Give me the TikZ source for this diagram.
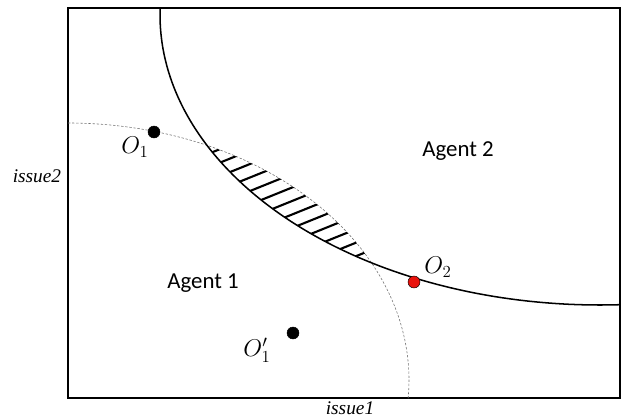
\documentclass[tikz,border=0pt]{standalone}
\usepackage{fontspec}
\usepackage{tikz}
\newfontfamily\calibri{Carlito}
\newfontfamily\timesfont{Liberation Serif}
\definecolor{dotred}{HTML}{E8120C}

\begin{document}
\begin{tikzpicture}[x=0.03cm,y=-0.03cm,
        agent/.style={font=\calibri\fontsize{19.5}{23}\selectfont},
        issue/.style={font=\timesfont\itshape\fontsize{16.5}{20}\selectfont},
        ptlabel/.style={font=\fontsize{20}{24}\selectfont,inner sep=0pt},
        dot/.style={circle,draw=black,fill=black,inner sep=0pt,minimum size=0.36cm},
        hatch/.style={line width=1.8pt}]
      \useasboundingbox (0,0) rectangle (623,418);
      % frame
      \draw[line width=1.6pt] (68,8) rectangle (620,398);
      \begin{scope}
        \clip (68,8) rectangle (620,398);
        % agent 1 (dashed)
        \draw[black!55,line width=0.5pt,dash pattern=on 2pt off 1.5pt]
          plot[domain=270:366,samples=100] ({68+341*cos(\x)},{380+257*sin(\x)});
        % agent 2
        \draw[line width=1.3pt]
          plot[domain=86:182,samples=120] ({600+440*cos(\x)},{15+290*sin(\x)});
      \end{scope}
      % overlap
      \begin{scope}
        \clip (68,398) -- plot[domain=270:366,samples=80] ({68+341*cos(\x)},{380+257*sin(\x)}) -- cycle;
        \clip plot[domain=0:360,samples=160] ({600+440*cos(\x)},{15+290*sin(\x)}) -- cycle;
        \foreach \c in {238,251.5,...,410}
          \draw[hatch] (150,{\c-0.404*150}) -- (430,{\c-0.404*430});
      \end{scope}
      \node[agent] (agent2) at (458,151) {Agent 2};
      \node[agent] (agent1) at (203,283) {Agent 1};
      \node[dot] (o1) at (154,132) {};
      \node[ptlabel] (o1lab) at (135,147) {$O_1$};
      \node[dot,fill=dotred] (o2) at (414,282) {};
      \node[ptlabel] (o2lab) at (438,267) {$O_2$};
      \node[dot] (o1p) at (293,333) {};
      \node[ptlabel] (o1plab) at (257,350) {$O'_1$};
      \node[issue] (issue2) at (37,176) {issue2};
      \node[issue,inner sep=1pt] (issue1) at (350,408) {issue1};
    \end{tikzpicture}
\end{document}
